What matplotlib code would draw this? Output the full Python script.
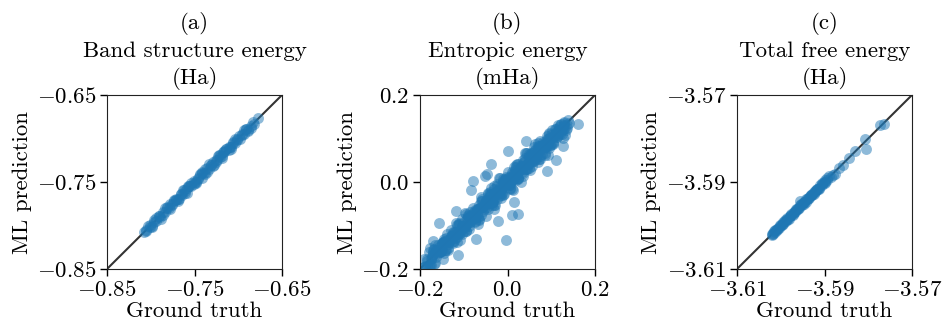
import matplotlib
matplotlib.use('Agg')
import matplotlib.pyplot as plt
from matplotlib.ticker import FixedLocator, FormatStrFormatter

plt.rcParams['font.family'] = 'serif'
plt.rcParams['font.serif'] = ['cmr10']
plt.rcParams['mathtext.fontset'] = 'cm'
plt.rcParams['axes.formatter.use_mathtext'] = True

# (a) band structure energy (Ha)
truth_a = [-0.808, -0.805, -0.801, -0.799, -0.796, -0.794, -0.791, -0.789, -0.786, -0.784,
           -0.781, -0.779, -0.776, -0.774, -0.771, -0.769, -0.766, -0.764, -0.761, -0.759,
           -0.756, -0.754, -0.751, -0.749, -0.746, -0.744, -0.741, -0.739, -0.736, -0.734,
           -0.731, -0.729, -0.726, -0.724, -0.721, -0.719, -0.716, -0.714, -0.711, -0.709,
           -0.706, -0.704, -0.701, -0.699, -0.696, -0.694, -0.691, -0.689, -0.686, -0.682,
           -0.677, -0.778, -0.768, -0.758, -0.748, -0.738, -0.728, -0.718, -0.708, -0.762,
           -0.742, -0.722,
           -0.8035, -0.7985, -0.7935, -0.7885, -0.7835, -0.7785, -0.7735, -0.7685, -0.7635, -0.7585,
           -0.7535, -0.7485, -0.7435, -0.7385, -0.7335, -0.7285, -0.7235, -0.7185, -0.7135, -0.7085,
           -0.7035, -0.6985, -0.6935, -0.6885, -0.6835,
           -0.806, -0.801, -0.796, -0.791, -0.786, -0.781, -0.776, -0.771, -0.766, -0.761,
           -0.756, -0.751, -0.746, -0.741, -0.736, -0.731, -0.726, -0.721, -0.716, -0.711,
           -0.706, -0.701, -0.696, -0.691, -0.686]
pred_a = [-0.807, -0.806, -0.799, -0.800, -0.794, -0.795, -0.789, -0.790, -0.784, -0.785,
          -0.779, -0.780, -0.775, -0.772, -0.770, -0.770, -0.764, -0.765, -0.760, -0.757,
          -0.755, -0.755, -0.749, -0.750, -0.745, -0.742, -0.740, -0.740, -0.734, -0.735,
          -0.730, -0.727, -0.725, -0.725, -0.719, -0.720, -0.715, -0.712, -0.710, -0.710,
          -0.704, -0.705, -0.700, -0.697, -0.695, -0.695, -0.689, -0.690, -0.686, -0.683,
          -0.676, -0.775, -0.770, -0.755, -0.750, -0.735, -0.730, -0.715, -0.710, -0.759,
          -0.745, -0.719,
          -0.8005, -0.8015, -0.7915, -0.7925, -0.7795, -0.7805, -0.7705, -0.7715, -0.7595, -0.7625,
          -0.7515, -0.7515, -0.7405, -0.7405, -0.7295, -0.7315, -0.7205, -0.7225, -0.7115, -0.7115,
          -0.7005, -0.7005, -0.6905, -0.6915, -0.6815,
          -0.805, -0.802, -0.796, -0.789, -0.788, -0.780, -0.777, -0.771, -0.764, -0.763,
          -0.755, -0.752, -0.746, -0.739, -0.738, -0.730, -0.727, -0.721, -0.714, -0.713,
          -0.705, -0.702, -0.696, -0.689, -0.688]

# (b) entropic energy (mHa)
truth_b = [-0.190, -0.185, -0.180, -0.175, -0.170, -0.165, -0.160, -0.155, -0.150, -0.145,
           -0.140, -0.135, -0.130, -0.125, -0.120, -0.115, -0.110, -0.105, -0.100, -0.095,
           -0.090, -0.085, -0.080, -0.075, -0.070, -0.065, -0.060, -0.055, -0.050, -0.045,
           -0.040, -0.035, -0.030, -0.025, -0.020, -0.015, -0.010, -0.005, 0.000, 0.005,
           0.010, 0.015, 0.020, 0.025, 0.030, 0.035, 0.040, 0.045, 0.050, 0.055,
           0.060, 0.065, 0.070, 0.075, 0.080, 0.085, 0.090, 0.095, 0.100, 0.105,
           0.110, 0.115, 0.120, 0.125, 0.130, 0.135, 0.140,
           -0.188, -0.183, -0.178, -0.173, -0.168, -0.163, -0.158, -0.153, -0.148, -0.143,
           -0.138, -0.133, -0.128, -0.123, -0.118, -0.113, -0.108, -0.103, -0.098, -0.093,
           -0.088, -0.083, -0.078, -0.073, -0.068, -0.063, -0.058, -0.053, -0.048, -0.043,
           -0.038, -0.033, -0.028, -0.023, -0.018, -0.013, -0.008, -0.003, 0.003, 0.008,
           0.013, 0.018, 0.023, 0.028, 0.033, 0.038, 0.043, 0.048, 0.053, 0.058,
           0.063, 0.068, 0.073, 0.078, 0.083, 0.088, 0.093, 0.098, 0.103, 0.108,
           0.113, 0.118, 0.123, 0.128, 0.133, 0.138,
           -0.060, -0.050, -0.040, -0.030, -0.020, -0.010, 0.000, 0.010, 0.020, 0.030,
           0.040, 0.050, 0.060, 0.070, 0.080,
           -0.1775, -0.1675, -0.1575, -0.1475, -0.1375, -0.1275, -0.1175, -0.1075, -0.0975, -0.0875,
           -0.0775, -0.0675, -0.0575, -0.0475, -0.0375, -0.0275, -0.0175, -0.0075, 0.0025, 0.0125,
           0.0225, 0.0325, 0.0425, 0.0525, 0.0625, 0.0725, 0.0825, 0.0925, 0.1025, 0.1125,
           0.1225, 0.1325,
           -0.1725, -0.1625, -0.1525, -0.1425, -0.1325, -0.1225, -0.1125, -0.1025, -0.0925, -0.0825,
           -0.0725, -0.0625, -0.0525, -0.0425, -0.0325, -0.0225, -0.0125, -0.0025, 0.0075, 0.0175,
           0.0275, 0.0375, 0.0475, 0.0575, 0.0675, 0.0775, 0.0875, 0.0975, 0.1075, 0.1175,
           0.1275,
           -0.185, -0.175, -0.165, -0.155, -0.145, -0.135, -0.125, -0.115, -0.105, -0.095,
           -0.085, -0.075, -0.065, -0.055, -0.045, -0.035, -0.025, -0.015, -0.005, 0.005,
           0.015, 0.025, 0.035, 0.045, 0.055, 0.065, 0.075, 0.085, 0.095, 0.105,
           0.115, 0.125,
           -0.145, -0.135, -0.125, -0.115, -0.105, -0.095, -0.085, -0.075, -0.065, -0.055,
           -0.045, -0.035, -0.025, -0.015, -0.005, 0.005, 0.015, 0.025, 0.035, 0.045,
           0.055, 0.065, 0.075, 0.085, 0.095, 0.105,
           -0.19, -0.17, -0.15, -0.13, -0.11, -0.09, -0.07, -0.05, -0.03, -0.01,
           0.01, 0.03, 0.05, 0.07, 0.09, 0.11, 0.13,
           -0.180, -0.170, -0.160, -0.150, -0.140, -0.130, -0.120, -0.110, -0.100, -0.090,
           -0.080, -0.070, -0.060, -0.050, -0.040, -0.030, -0.020, -0.010, 0.000, 0.010,
           0.020, 0.030, 0.040, 0.050, 0.060, 0.070, 0.080, 0.090, 0.100, 0.110,
           0.120, 0.130,
           -0.165, -0.155, -0.145, -0.135, -0.125, -0.115, -0.105, -0.095, -0.085, -0.075,
           -0.065, -0.055, -0.045, -0.035, -0.025, -0.015, -0.005, 0.005, 0.015, 0.025,
           0.035, 0.045, 0.055, 0.065, 0.075, 0.085, 0.095, 0.105, 0.115,
           -0.003, -0.113, -0.171, -0.079, -0.037, 0.002, 0.111, 0.162, 0.137, 0.014,
           0.025, -0.022, -0.052, 0.042, -0.073, -0.156, -0.188, -0.117, 0.095, 0.126,
           -0.084, -0.046, 0.127, 0.010, 0.090, -0.031]
pred_b = [-0.178, -0.193, -0.160, -0.190, -0.165, -0.187, -0.144, -0.158, -0.141, -0.163,
          -0.128, -0.143, -0.110, -0.140, -0.115, -0.137, -0.094, -0.108, -0.091, -0.113,
          -0.078, -0.093, -0.060, -0.090, -0.065, -0.087, -0.044, -0.058, -0.041, -0.063,
          -0.028, -0.043, -0.010, -0.040, -0.015, -0.037, 0.006, -0.008, 0.009, -0.013,
          0.022, 0.007, 0.040, 0.010, 0.035, 0.013, 0.056, 0.042, 0.059, 0.037,
          0.072, 0.057, 0.090, 0.060, 0.085, 0.063, 0.106, 0.092, 0.109, 0.087,
          0.122, 0.107, 0.130, 0.110, 0.130, 0.123, 0.135,
          -0.192, -0.176, -0.190, -0.170, -0.154, -0.172, -0.157, -0.159, -0.138, -0.156,
          -0.134, -0.137, -0.121, -0.135, -0.115, -0.099, -0.117, -0.102, -0.104, -0.083,
          -0.101, -0.079, -0.082, -0.066, -0.080, -0.060, -0.044, -0.062, -0.047, -0.049,
          -0.028, -0.046, -0.024, -0.027, -0.011, -0.025, -0.005, 0.011, -0.006, 0.009,
          0.007, 0.028, 0.010, 0.032, 0.029, 0.045, 0.031, 0.051, 0.067, 0.049,
          0.064, 0.062, 0.083, 0.065, 0.087, 0.084, 0.100, 0.086, 0.106, 0.122,
          0.104, 0.119, 0.117, 0.138, 0.120, 0.142,
          -0.035, -0.078, -0.022, -0.054, 0.010, -0.030, 0.022, -0.016, 0.035, 0.000,
          0.067, 0.033, 0.080, 0.045, 0.092,
          -0.1515, -0.1875, -0.1495, -0.1775, -0.1195, -0.1375, -0.0935, -0.1325, -0.0715, -0.1075,
          -0.0695, -0.0975, -0.0395, -0.0575, -0.0135, -0.0525, 0.0085, -0.0275, 0.0105, -0.0175,
          0.0405, 0.0225, 0.0665, 0.0275, 0.0885, 0.0525, 0.0905, 0.0625, 0.1205, 0.1025,
          0.1325, 0.1075,
          -0.1745, -0.1565, -0.1595, -0.1405, -0.1335, -0.1145, -0.1175, -0.1015, -0.0945, -0.0765,
          -0.0795, -0.0605, -0.0535, -0.0345, -0.0375, -0.0215, -0.0145, 0.0035, 0.0005, 0.0195,
          0.0265, 0.0455, 0.0425, 0.0585, 0.0655, 0.0835, 0.0805, 0.0995, 0.1065, 0.1255,
          0.1225,
          -0.181, -0.178, -0.164, -0.160, -0.139, -0.136, -0.123, -0.119, -0.101, -0.098,
          -0.084, -0.080, -0.059, -0.056, -0.043, -0.039, -0.021, -0.018, -0.004, 0.000,
          0.021, 0.024, 0.037, 0.041, 0.059, 0.062, 0.076, 0.080, 0.101, 0.104,
          0.117, 0.121,
          -0.130, -0.151, -0.114, -0.127, -0.086, -0.113, -0.070, -0.091, -0.054, -0.067,
          -0.026, -0.053, -0.010, -0.031, 0.006, -0.007, 0.034, 0.007, 0.050, 0.029,
          0.066, 0.053, 0.094, 0.067, 0.110, 0.089,
          -0.195, -0.161, -0.156, -0.123, -0.119, -0.082, -0.077, -0.044, -0.038, -0.001,
          0.004, 0.037, 0.041, 0.078, 0.083, 0.116, 0.122,
          -0.192, -0.157, -0.164, -0.141, -0.156, -0.127, -0.129, -0.096, -0.112, -0.077,
          -0.084, -0.061, -0.076, -0.047, -0.049, -0.016, -0.032, 0.003, -0.004, 0.019,
          0.004, 0.033, 0.031, 0.064, 0.048, 0.083, 0.076, 0.099, 0.084, 0.113,
          0.111, 0.135,
          -0.144, -0.161, -0.135, -0.156, -0.123, -0.098, -0.119, -0.074, -0.091, -0.065,
          -0.086, -0.053, -0.028, -0.049, -0.004, -0.021, 0.005, -0.016, 0.017, 0.042,
          0.021, 0.066, 0.049, 0.075, 0.054, 0.087, 0.112, 0.091, 0.130,
          -0.133, -0.168, -0.135, 0.003, 0.041, 0.072, 0.050, 0.133, 0.131, -0.047,
          -0.074, -0.089, 0.014, 0.094, -0.131, -0.095, -0.195, -0.066, 0.079, 0.102,
          -0.018, 0.019, 0.083, -0.077, 0.026, -0.062]

# (c) total free energy (Ha)
truth_c = [-3.6021, -3.6018, -3.6015, -3.6012, -3.6009, -3.6006, -3.6003, -3.6000, -3.5997, -3.5994,
           -3.5991, -3.5988, -3.5985, -3.5982, -3.5979, -3.5976, -3.5973, -3.5970, -3.5967, -3.5964,
           -3.5961, -3.5958, -3.5955, -3.5952, -3.5949, -3.5946, -3.5943, -3.5940, -3.5937, -3.5934,
           -3.5931, -3.5928, -3.5925, -3.5922, -3.5919, -3.5916, -3.5913, -3.5910, -3.5906, -3.5902,
           -3.5898, -3.5894, -3.5890, -3.5886, -3.5880, -3.5875, -3.5866, -3.5857, -3.5845, -3.5830,
           -3.5807, -3.5805, -3.5773, -3.5765, -3.5956,
           -3.60195, -3.60135, -3.60075, -3.60015, -3.59955, -3.59895, -3.59835, -3.59775, -3.59715, -3.59655,
           -3.59595, -3.59535, -3.59475, -3.59415, -3.59355, -3.59295, -3.59235, -3.59175, -3.59115, -3.59055,
           -3.58995, -3.58935,
           -3.6018, -3.6010, -3.6002, -3.5994, -3.5986, -3.5978, -3.5970, -3.5962, -3.5954, -3.5946,
           -3.5938, -3.5930, -3.5922, -3.5914, -3.5906, -3.5898]
pred_c = [-3.6019, -3.6019, -3.6012, -3.6014, -3.6009, -3.6005, -3.6006, -3.5998, -3.5998, -3.5993,
          -3.5989, -3.5989, -3.5982, -3.5984, -3.5979, -3.5975, -3.5976, -3.5968, -3.5968, -3.5963,
          -3.5959, -3.5959, -3.5952, -3.5954, -3.5949, -3.5945, -3.5946, -3.5938, -3.5938, -3.5933,
          -3.5929, -3.5929, -3.5922, -3.5924, -3.5919, -3.5915, -3.5916, -3.5908, -3.5907, -3.5901,
          -3.5896, -3.5895, -3.5887, -3.5888, -3.5884, -3.5882, -3.5868, -3.5862, -3.5844, -3.5829,
          -3.5802, -3.5823, -3.5769, -3.5767, -3.5943,
          -3.60215, -3.60105, -3.60105, -3.59995, -3.59975, -3.59865, -3.59845, -3.59745, -3.59745, -3.59635,
          -3.59615, -3.59505, -3.59505, -3.59395, -3.59375, -3.59265, -3.59265, -3.59155, -3.59135, -3.59025,
          -3.59015, -3.58915,
          -3.6017, -3.6011, -3.6001, -3.5995, -3.5985, -3.5979, -3.5969, -3.5963, -3.5953, -3.5947,
          -3.5937, -3.5931, -3.5921, -3.5915, -3.5905, -3.5899]

titles = ['(a)\nBand structure energy\n(Ha)', '(b)\nEntropic energy\n(mHa)', '(c)\nTotal free energy\n(Ha)']
ticks = [[-0.85, -0.75, -0.65], [-0.2, 0.0, 0.2], [-3.61, -3.59, -3.57]]
fmts = ['$%.2f$', '$%.1f$', '$%.2f$']
data = [(truth_a, pred_a), (truth_b, pred_b), (truth_c, pred_c)]
lefts = [107, 420, 737]

fs = 16.5
fig = plt.figure(figsize=(9.43, 3.25), dpi=100)
for i in range(3):
    ax = fig.add_axes([lefts[i] / 943, 56 / 325, 175 / 943, 174 / 325])
    lo, hi = ticks[i][0], ticks[i][-1]
    ax.plot([lo, hi], [lo, hi], color='#333333', lw=1.5, zorder=1)
    ax.scatter(data[i][0], data[i][1], s=62, color='#1f77b4', alpha=0.5, linewidths=0, zorder=2)
    ax.set_xlim(lo, hi)
    ax.set_ylim(lo, hi)
    ax.xaxis.set_major_locator(FixedLocator(ticks[i]))
    ax.yaxis.set_major_locator(FixedLocator(ticks[i]))
    ax.xaxis.set_major_formatter(FormatStrFormatter(fmts[i]))
    ax.yaxis.set_major_formatter(FormatStrFormatter(fmts[i]))
    ax.tick_params(length=5, width=1, labelsize=fs, pad=3)
    for sp in ax.spines.values():
        sp.set_color('#222222')
    ax.set_title(titles[i], fontsize=fs, linespacing=1.37, pad=8)
    ax.set_xlabel('Ground truth', fontsize=fs, labelpad=1)
    ax.set_ylabel('ML prediction', fontsize=fs, labelpad=3)

fig.savefig('out.png', dpi=100)
